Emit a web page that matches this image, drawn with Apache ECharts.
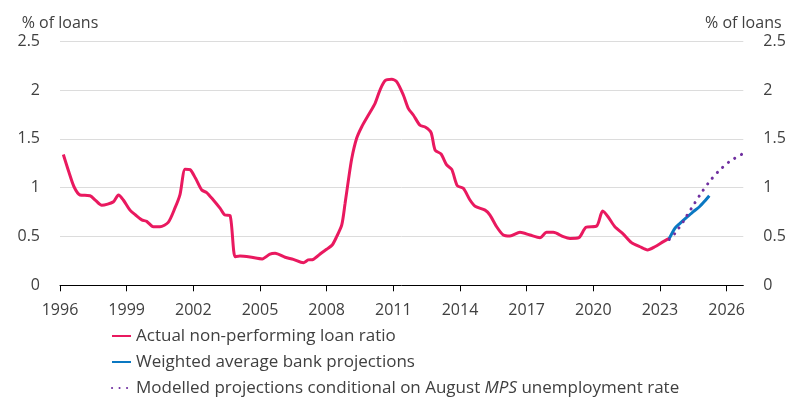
<!DOCTYPE html>
<html>
<head>
<meta charset="utf-8">
<script src="https://cdn.jsdelivr.net/npm/echarts@6/dist/echarts.min.js"></script>
<style>
html,body{margin:0;padding:0;background:#fff;}
#chart{width:803px;height:397px;}
</style>
</head>
<body>
<div id="chart"></div>
<script>
// ---- Data ----
const actualDates = [1996.15,1996.4,1996.63,1996.9,1997.35,1997.6,1997.88,1998.4,1998.63,1998.85,
  1999.15,1999.4,1999.68,1999.9,2000.2,2000.5,2000.87,2001.17,2001.4,2001.63,2001.85,2002.1,2002.38,
  2002.6,2002.9,2003.2,2003.42,2003.65,2003.88,2004.1,2004.55,2005.1,2005.45,2005.68,2006.13,2006.5,
  2006.95,2007.17,2007.4,2007.78,2008.0,2008.25,2008.45,2008.68,2008.83,2008.98,2009.13,2009.35,
  2009.58,2009.88,2010.18,2010.4,2010.63,2010.93,2011.15,2011.45,2011.68,2011.9,2012.2,2012.45,
  2012.7,2012.88,2013.15,2013.4,2013.63,2013.88,2014.15,2014.45,2014.68,2015.13,2015.35,2015.65,
  2015.95,2016.25,2016.7,2017.15,2017.6,2017.9,2018.2,2018.65,2018.95,2019.35,2019.67,2020.15,
  2020.42,2020.67,2020.97,2021.35,2021.72,2022.1,2022.44,2022.77,2023.15,2023.42];
const actualValues = [1.34,1.16,1.01,0.925,0.918,0.87,0.82,0.855,0.925,0.874,
  0.77,0.72,0.67,0.655,0.60,0.60,0.645,0.79,0.93,1.19,1.185,1.096,0.976,
  0.95,0.874,0.79,0.72,0.715,0.293,0.30,0.29,0.27,0.32,0.328,0.287,0.266,
  0.232,0.26,0.266,0.334,0.37,0.413,0.498,0.618,0.84,1.08,1.30,1.506,
  1.625,1.745,1.865,2.0,2.096,2.11,2.086,1.95,1.81,1.745,1.64,1.62,
  1.565,1.386,1.345,1.233,1.188,1.02,0.994,0.874,0.81,0.77,0.72,0.60,
  0.515,0.505,0.543,0.515,0.488,0.543,0.543,0.498,0.48,0.488,0.594,0.607,
  0.76,0.70,0.60,0.525,0.437,0.395,0.362,0.395,0.447,0.48];

const bankDates  = [2023.42,2023.67,2023.9,2024.2,2024.5,2024.8,2025.03,2025.22];
const bankValues = [0.48,0.584,0.635,0.697,0.754,0.81,0.867,0.918];

const modelDates  = [2023.42,2023.68,2023.86,2024.05,2024.2,2024.53,2024.88,2025.25,2025.66,2026.12,2026.68];
const modelValues = [0.47,0.533,0.59,0.652,0.71,0.83,0.953,1.069,1.174,1.266,1.342];

const xTickYears = [1996,1999,2002,2005,2008,2011,2014,2017,2020,2023,2026];
const seriesNames = ['Actual non-performing loan ratio','Weighted average bank projections','Modelled projections conditional on August MPS unemployment rate'];
const axisTitle = '% of loans';

// ---- Chart ----
const FONT = 'Open Sans';
const TXT = '#404040';
const pairs = (xs, ys) => xs.map((x, i) => [x, ys[i]]);

const chart = echarts.init(document.getElementById('chart'), null, {renderer: 'canvas'});
const yCommon = {
  type: 'value', min: 0, max: 2.5, interval: 0.5,
  axisLine: {show: false}, axisTick: {show: false},
  name: axisTitle, nameLocation: 'end', nameGap: 10,
  nameTextStyle: {fontFamily: FONT, fontSize: 16, color: TXT, align: 'center'},
  axisLabel: {fontFamily: FONT, fontSize: 16, color: TXT, margin: 20, padding: [3, 0, 0, 0]}
};
chart.setOption({
  animation: false,
  grid: {left: 60, right: 59.7, top: 41.3, bottom: 111.7, containLabel: false},
  xAxis: {
    type: 'value', min: 1996, max: 2026.75,
    axisLine: {show: true, lineStyle: {color: '#000', width: 1}},
    axisTick: {show: true, length: 6, lineStyle: {color: '#000'}, customValues: xTickYears},
    axisLabel: {fontFamily: FONT, fontSize: 16, color: TXT, margin: 17, customValues: xTickYears,
      formatter: v => String(Math.round(v))},
    splitLine: {show: false}
  },
  yAxis: [
    Object.assign({}, yCommon, {position: 'left',
      splitLine: {show: true, lineStyle: {color: '#DCDCDC', width: 1}}}),
    Object.assign({}, yCommon, {position: 'right', splitLine: {show: false}})
  ],
  legend: {
    orient: 'vertical', left: 111, top: 326, height: 100, padding: 0,
    itemWidth: 19, itemHeight: 10, itemGap: 6,
    itemStyle: {opacity: 0},
    textStyle: {fontFamily: FONT, fontSize: 17, color: TXT, lineHeight: 20,
      rich: {i: {fontFamily: FONT, fontSize: 17, color: TXT, fontStyle: 'italic', lineHeight: 20}}},
    formatter: name => name.replace('MPS', '{i|MPS}'),
    data: seriesNames
  },
  series: [
    {name: seriesNames[0], type: 'line', data: pairs(actualDates, actualValues),
      symbol: 'none', smooth: 0.25, lineStyle: {color: '#E9195F', width: 3}, itemStyle: {color: '#E9195F'}, z: 3},
    {name: seriesNames[1], type: 'line', data: pairs(bankDates, bankValues),
      symbol: 'none', smooth: 0.25, lineStyle: {color: '#0A78C2', width: 3}, itemStyle: {color: '#0A78C2'}, z: 4},
    {name: seriesNames[2], type: 'line', data: pairs(modelDates, modelValues),
      symbol: 'none', smooth: 0.3, lineStyle: {color: '#7030A0', width: 3, type: [0.1, 7.4], cap: 'round'},
      itemStyle: {color: '#7030A0'}, z: 5}
  ]
});
</script>
</body>
</html>
